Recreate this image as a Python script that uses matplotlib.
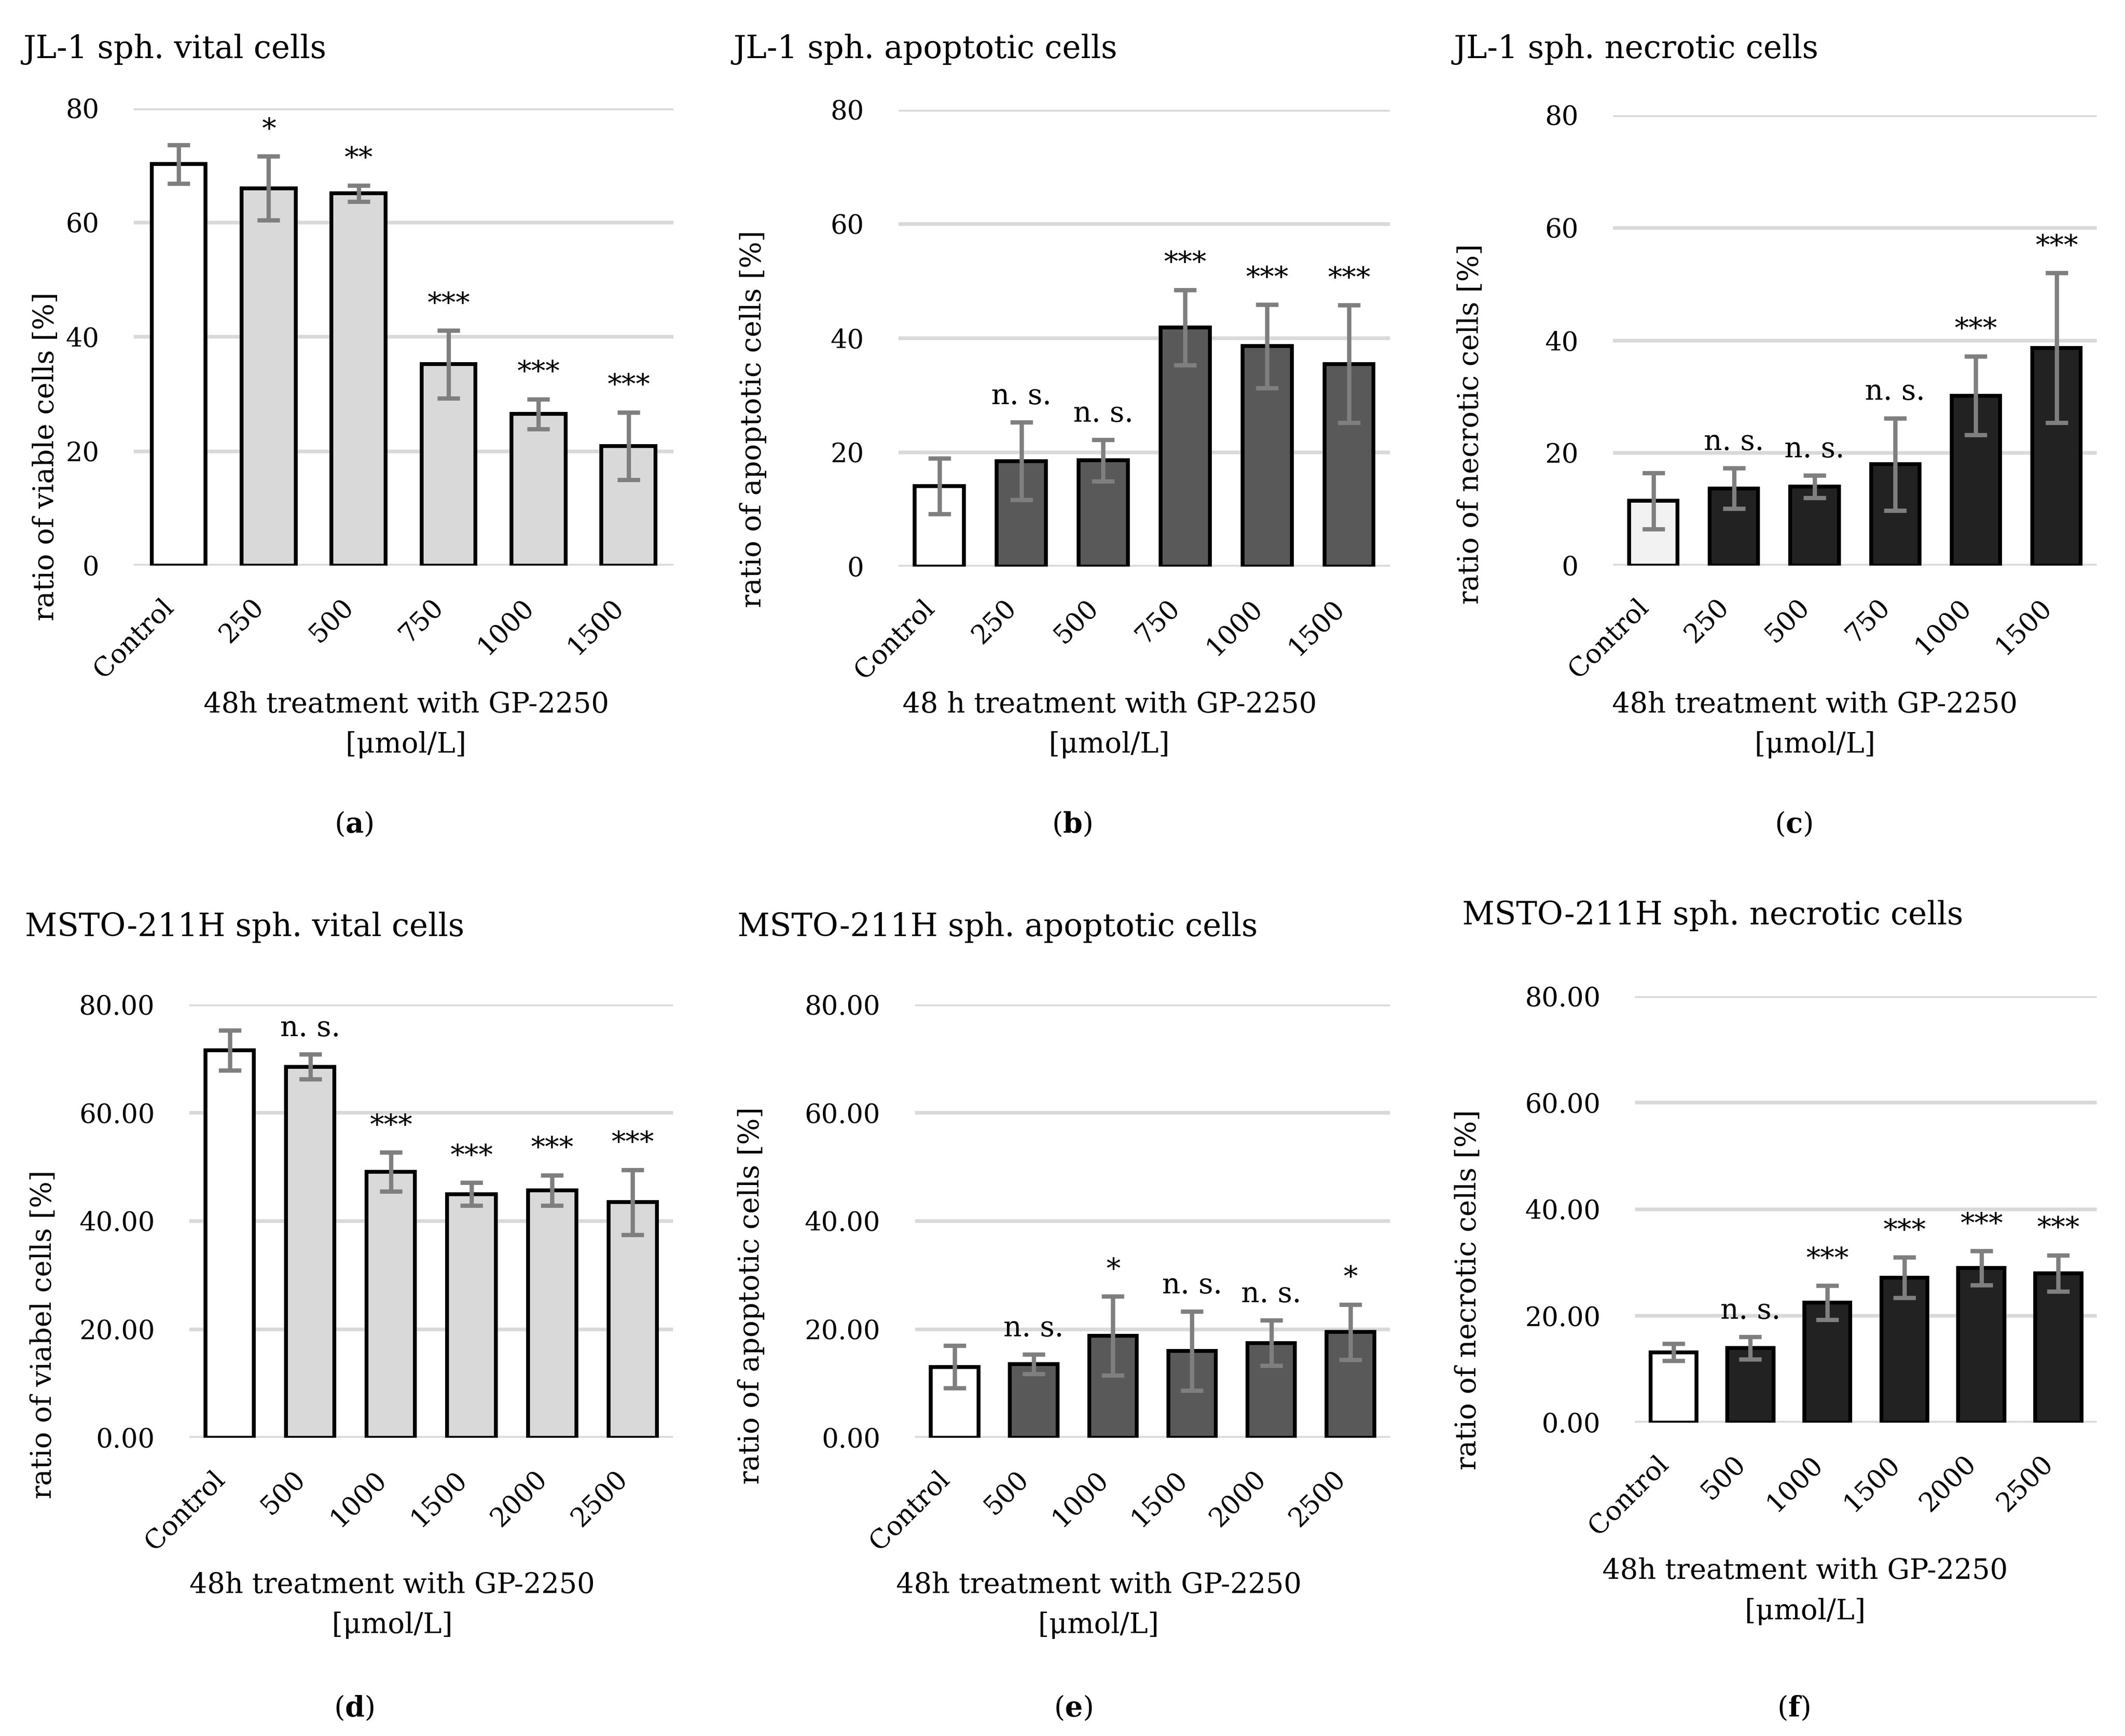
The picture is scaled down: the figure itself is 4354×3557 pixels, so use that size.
import matplotlib
matplotlib.use('Agg')
import matplotlib.pyplot as plt
import numpy as np

plt.rcParams['font.family'] = ['DejaVu Serif']
plt.rcParams['mathtext.fontset'] = 'custom'
plt.rcParams['mathtext.rm'] = 'DejaVu Serif'
plt.rcParams['mathtext.bf'] = 'DejaVu Serif:bold'

# doses (x categories)
jl_doses = ['Control', '250', '500', '750', '1000', '1500']
msto_doses = ['Control', '500', '1000', '1500', '2000', '2500']

# JL-1 spheroids
jl_vital = [70.2, 66.0, 65.1, 35.2, 26.5, 20.9]
jl_vital_sd = [3.4, 5.6, 1.4, 5.9, 2.6, 5.9]
jl_vital_sig = ['', '*', '**', '***', '***', '***']

jl_apop = [14.1, 18.5, 18.6, 41.9, 38.6, 35.5]
jl_apop_sd = [4.9, 6.8, 3.6, 6.6, 7.3, 10.3]
jl_apop_sig = ['', 'n. s.', 'n. s.', '***', '***', '***']

jl_necro = [11.5, 13.7, 14.0, 18.0, 30.2, 38.7]
jl_necro_sd = [5.0, 3.6, 2.0, 8.2, 7.0, 13.3]
jl_necro_sig = ['', 'n. s.', 'n. s.', 'n. s.', '***', '***']

# MSTO-211H spheroids
msto_vital = [71.5, 68.5, 49.1, 45.0, 45.7, 43.5]
msto_vital_sd = [3.7, 2.3, 3.6, 2.1, 2.8, 6.0]
msto_vital_sig = ['', 'n. s.', '***', '***', '***', '***']

msto_apop = [13.1, 13.6, 18.8, 16.0, 17.5, 19.5]
msto_apop_sd = [3.9, 1.8, 7.3, 7.3, 4.2, 5.1]
msto_apop_sig = ['', 'n. s.', '*', 'n. s.', 'n. s.', '*']

msto_necro = [13.2, 14.0, 22.5, 27.2, 29.0, 28.0]
msto_necro_sd = [1.6, 2.1, 3.2, 3.8, 3.2, 3.4]
msto_necro_sig = ['', 'n. s.', '***', '***', '***', '***']

xlab = '48h treatment with GP-2250\n[\u03bcmol/L]'
xlab_b = '48 h treatment with GP-2250\n[\u03bcmol/L]'

fig = plt.figure(figsize=(4354/300., 3557/300.), dpi=300)

TICK_FS = 13
LAB_FS = 13.8
SIG_FS = 14
TITLE_FS = 15.5

def panel(rect, doses, vals, sds, sig, fill, ctrl_fill, fmt,
          title, title_xy, ylabel, ylab_xy, xlabel, xlab_xy, letter, letter_xy):
    ax = fig.add_axes(rect)
    x = np.arange(len(doses))
    colors = [ctrl_fill] + [fill]*(len(doses)-1)
    ax.bar(x, vals, width=0.6, color=colors, edgecolor='black', linewidth=1.9, zorder=3)
    ax.errorbar(x, vals, yerr=sds, fmt='none', ecolor='#7f7f7f', elinewidth=2.1,
                capsize=5.6, capthick=2.1, zorder=4)
    for i in range(len(doses)):
        if sig[i]:
            ax.annotate(sig[i], xy=(x[i], vals[i] + sds[i]), xytext=(0, 9),
                        textcoords='offset points', ha='center', va='baseline',
                        fontsize=SIG_FS)
    ax.set_xlim(-0.5, len(doses) - 0.5)
    ax.set_ylim(0, 80)
    ax.set_yticks([0, 20, 40, 60, 80])
    ax.set_yticklabels([fmt % v for v in [0, 20, 40, 60, 80]])
    ax.grid(axis='y', color='#d9d9d9', linewidth=1.8)
    ax.set_axisbelow(True)
    for s in ax.spines.values():
        s.set_visible(False)
    ax.set_xticks(x)
    ax.set_xticklabels(doses, rotation=45, ha='right', va='top')
    ax.tick_params(axis='y', length=0, pad=17, labelsize=TICK_FS)
    ax.tick_params(axis='x', length=0, pad=14, labelsize=TICK_FS)
    fig.text(title_xy[0], title_xy[1], title, ha='left', va='center', fontsize=TITLE_FS)
    fig.text(ylab_xy[0], ylab_xy[1], ylabel, ha='center', va='center', rotation=90,
             fontsize=LAB_FS)
    fig.text(xlab_xy[0], xlab_xy[1], xlabel, ha='center', va='center', fontsize=LAB_FS,
             linespacing=1.6)
    fig.text(letter_xy[0], letter_xy[1], r'($\mathbf{%s}$)' % letter, ha='center',
             va='center', fontsize=LAB_FS)
    return ax

panel([0.0629, 0.6742, 0.2540, 0.2635], jl_doses, jl_vital, jl_vital_sd, jl_vital_sig,
      '#d9d9d9', 'white', '%d', 'JL-1 sph. vital cells', (0.0108, 0.9715),
      'ratio of viable cells [%]', (0.0215, 0.737), xlab, (0.1911, 0.5825),
      'a', (0.1665, 0.525))
panel([0.4228, 0.6736, 0.2313, 0.2631], jl_doses, jl_apop, jl_apop_sd, jl_apop_sig,
      '#595959', 'white', '%d', 'JL-1 sph. apoptotic cells', (0.345, 0.9715),
      'ratio of apoptotic cells [%]', (0.3545, 0.7588), xlab_b, (0.5221, 0.5825),
      'b', (0.5045, 0.525))
panel([0.7591, 0.6742, 0.2276, 0.2594], jl_doses, jl_necro, jl_necro_sd, jl_necro_sig,
      '#222222', '#f2f2f2', '%d', 'JL-1 sph. necrotic cells', (0.684, 0.9715),
      'ratio of necrotic cells [%]', (0.692, 0.7557), xlab, (0.854, 0.5825),
      'c', (0.8439, 0.525))
panel([0.0891, 0.1718, 0.2276, 0.2496], msto_doses, msto_vital, msto_vital_sd, msto_vital_sig,
      '#d9d9d9', 'white', '%.2f', 'MSTO-211H sph. vital cells', (0.0116, 0.4658),
      'ratio of viabel cells [%]', (0.0204, 0.2314), xlab, (0.1845, 0.0754),
      'd', (0.1665, 0.016))
panel([0.4306, 0.1718, 0.2235, 0.2496], msto_doses, msto_apop, msto_apop_sd, msto_apop_sig,
      '#595959', 'white', '%.2f', 'MSTO-211H sph. apoptotic cells', (0.347, 0.4658),
      'ratio of apoptotic cells [%]', (0.3535, 0.2538), xlab, (0.517, 0.0754),
      'e', (0.505, 0.016))
panel([0.7694, 0.1805, 0.2173, 0.2457], msto_doses, msto_necro, msto_necro_sd, msto_necro_sig,
      '#222222', 'white', '%.2f', 'MSTO-211H sph. necrotic cells', (0.688, 0.4725),
      'ratio of necrotic cells [%]', (0.6909, 0.2569), xlab, (0.8494, 0.0834),
      'f', (0.844, 0.016))

fig.savefig('out.png', dpi=300, facecolor='white')
